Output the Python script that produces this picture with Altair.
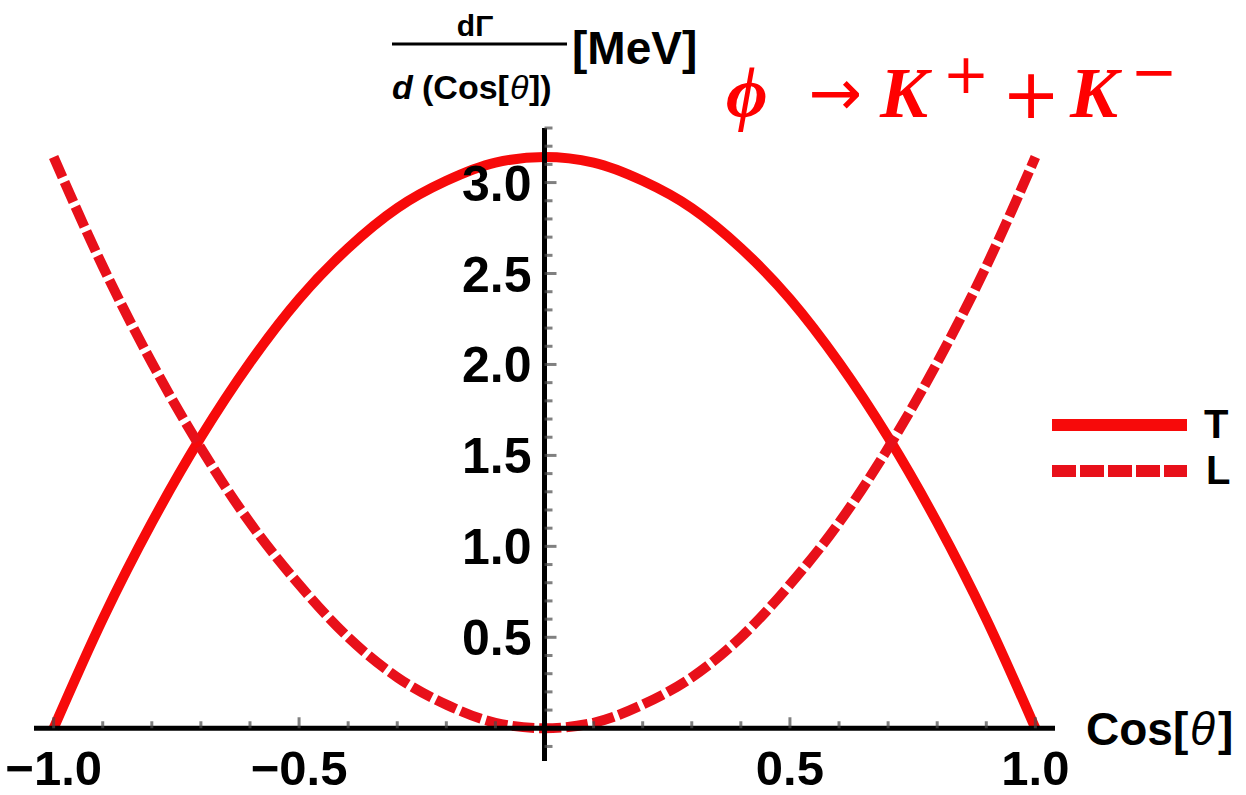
import altair as alt
import pandas as pd

# Angular distribution of phi -> K+ K- for transverse (T) and longitudinal (L) polarisation
cos_theta = [-1.0, -0.9, -0.8, -0.7, -0.6, -0.5, -0.4, -0.3, -0.2, -0.1, 0.0,
             0.1, 0.2, 0.3, 0.4, 0.5, 0.6, 0.7, 0.8, 0.9, 1.0]
t_vals = [0.0, 0.60, 1.13, 1.60, 2.01, 2.36, 2.64, 2.86, 3.01, 3.11, 3.14,
          3.11, 3.01, 2.86, 2.64, 2.36, 2.01, 1.60, 1.13, 0.60, 0.0]
l_vals = [3.14, 2.54, 2.01, 1.54, 1.13, 0.79, 0.50, 0.28, 0.13, 0.03, 0.0,
          0.03, 0.13, 0.28, 0.50, 0.79, 1.13, 1.54, 2.01, 2.54, 3.14]
series = ["T", "L"]

x_major = [-1.0, -0.5, 0.5, 1.0]
x_labels = ["\u22121.0", "\u22120.5", "0.5", "1.0"]
x_minor = [-0.9, -0.8, -0.7, -0.6, -0.4, -0.3, -0.2, -0.1,
           0.1, 0.2, 0.3, 0.4, 0.6, 0.7, 0.8, 0.9]
y_major = [0.5, 1.0, 1.5, 2.0, 2.5, 3.0]
y_labels = ["0.5", "1.0", "1.5", "2.0", "2.5", "3.0"]
y_minor = [-0.1, 0.1, 0.2, 0.3, 0.4, 0.6, 0.7, 0.8, 0.9, 1.1, 1.2, 1.3, 1.4,
           1.6, 1.7, 1.8, 1.9, 2.1, 2.2, 2.3, 2.4, 2.6, 2.7, 2.8, 2.9,
           3.1, 3.2, 3.3]

# Layout of the plot area inside the 1246x795 canvas
LEFT, TOP, W, H = 34, 128, 1021, 633
X_DOMAIN = [-1.04, 1.04]
Y_DOMAIN = [-0.18, 3.30]
RED_T = "#f70a0a"
RED_L = "#e8101a"
RED_TXT = "#ff0000"
TICK_GREY = "#4a4a4a"
SANS = "Liberation Sans"
SERIF = "Liberation Serif"
SYMBOLS = "DejaVu Sans"

xs = alt.Scale(domain=X_DOMAIN, nice=False, zero=False)
ys = alt.Scale(domain=Y_DOMAIN, nice=False, zero=False)

curves = pd.DataFrame({
    "x": cos_theta * 2,
    "y": t_vals + l_vals,
    "series": [series[0]] * len(t_vals) + [series[1]] * len(l_vals),
})

base = alt.Chart(curves)
t_line = base.transform_filter(alt.datum.series == "T").mark_line(
    color=RED_T, strokeWidth=10, interpolate="monotone", strokeCap="butt"
).encode(x=alt.X("x:Q", scale=xs, axis=None), y=alt.Y("y:Q", scale=ys, axis=None))
l_line = base.transform_filter(alt.datum.series == "L").mark_line(
    color=RED_L, strokeWidth=10, interpolate="monotone", strokeDash=[22, 5], strokeCap="butt"
).encode(x=alt.X("x:Q", scale=xs, axis=None), y=alt.Y("y:Q", scale=ys, axis=None))

one = alt.Data(values=[{}])

# Axis lines crossing at the origin
x_axis_line = alt.Chart(one).mark_rule(color="black", strokeWidth=5).encode(
    x=alt.value(0), x2=alt.value(W), y=alt.Y(datum=0, scale=ys)
)
y_axis_line = alt.Chart(one).mark_rule(color="black", strokeWidth=5).encode(
    x=alt.X(datum=0, scale=xs), y=alt.value(0), y2=alt.value(H)
)

# Ticks
xmaj = alt.Chart(pd.DataFrame({"v": x_major})).mark_tick(
    orient="vertical", size=11, thickness=3, yOffset=-5.5, color=TICK_GREY
).encode(x=alt.X("v:Q", scale=xs), y=alt.Y(datum=0, scale=ys))
xmin = alt.Chart(pd.DataFrame({"v": x_minor})).mark_tick(
    orient="vertical", size=7, thickness=3, yOffset=-3.5, color=TICK_GREY
).encode(x=alt.X("v:Q", scale=xs), y=alt.Y(datum=0, scale=ys))
ymaj = alt.Chart(pd.DataFrame({"v": y_major})).mark_tick(
    orient="horizontal", size=12, thickness=3, xOffset=6, color=TICK_GREY
).encode(y=alt.Y("v:Q", scale=ys), x=alt.X(datum=0, scale=xs))
ymin = alt.Chart(pd.DataFrame({"v": y_minor})).mark_tick(
    orient="horizontal", size=8, thickness=3, xOffset=4, color=TICK_GREY
).encode(y=alt.Y("v:Q", scale=ys), x=alt.X(datum=0, scale=xs))

# Tick labels
xlab = alt.Chart(pd.DataFrame({"v": x_major, "t": x_labels})).mark_text(
    font=SANS, fontWeight="bold", fontSize=49, align="center", baseline="alphabetic",
    dy=57, color="black"
).encode(x=alt.X("v:Q", scale=xs), y=alt.Y(datum=0, scale=ys), text="t:N")
ylab = alt.Chart(pd.DataFrame({"v": y_major, "t": y_labels})).mark_text(
    font=SANS, fontWeight="bold", fontSize=50, align="right", baseline="alphabetic",
    dx=-13, dy=18, color="black"
).encode(y=alt.Y("v:Q", scale=ys), x=alt.X(datum=0, scale=xs), text="t:N")


def text_at(txt, x, y, size, font=SANS, weight="bold", style="normal",
            color="black", align="left", baseline="alphabetic"):
    return alt.Chart(one).mark_text(
        text=txt, font=font, fontSize=size, fontWeight=weight, fontStyle=style,
        color=color, align=align, baseline=baseline
    ).encode(x=alt.value(x - LEFT), y=alt.value(y - TOP))


# Y axis title: dGamma / d(Cos[theta]) [MeV]
y_title = [
    text_at("d\u0393", 475, 36, 30, align="center"),
    alt.Chart(one).mark_rule(color="black", strokeWidth=3).encode(
        x=alt.value(392 - LEFT), x2=alt.value(567 - LEFT), y=alt.value(44 - TOP)
    ),
    text_at("d", 392, 99, 34, style="italic"),
    text_at("(Cos[", 422, 99, 34),
    text_at("\u03b8", 510, 99, 34, style="italic", weight="normal"),
    text_at("])", 529, 99, 34),
    text_at("[MeV]", 572, 64, 46),
]

# X axis title
x_title = [
    text_at("Cos[", 1086, 745, 46),
    text_at("\u03b8", 1190, 745, 46, style="italic", weight="normal"),
    text_at("]", 1218, 745, 46),
]

# Reaction label
reaction = [
    text_at("\u03d5", 726, 117, 72, font=SERIF, style="italic", color=RED_TXT),
    text_at("\u2192", 835, 96, 64, font=SYMBOLS, weight="normal", color=RED_TXT,
            align="center", baseline="middle"),
    text_at("K", 880, 117, 72, font=SERIF, style="italic", color=RED_TXT),
    text_at("+", 966, 76, 56, font=SYMBOLS, weight="normal", color=RED_TXT,
            align="center", baseline="middle"),
    text_at("+", 1031, 97, 70, font=SYMBOLS, weight="normal", color=RED_TXT,
            align="center", baseline="middle"),
    text_at("K", 1070, 117, 72, font=SERIF, style="italic", color=RED_TXT),
    text_at("\u2212", 1154, 74, 56, font=SYMBOLS, weight="normal", color=RED_TXT,
            align="center", baseline="middle"),
]

# Legend
legend = [
    alt.Chart(one).mark_rule(color=RED_T, strokeWidth=12).encode(
        x=alt.value(1052 - LEFT), x2=alt.value(1187 - LEFT), y=alt.value(425 - TOP)
    ),
    alt.Chart(one).mark_rule(color=RED_L, strokeWidth=12, strokeDash=[24, 4]).encode(
        x=alt.value(1052 - LEFT), x2=alt.value(1187 - LEFT), y=alt.value(471 - TOP)
    ),
    text_at(series[0], 1204, 426, 40, baseline="middle"),
    text_at(series[1], 1206, 472, 40, baseline="middle"),
]

chart = alt.layer(
    t_line, l_line, x_axis_line, y_axis_line, xmaj, xmin, ymaj, ymin, xlab, ylab,
    *y_title, *x_title, *reaction, *legend
).properties(
    width=W, height=H,
    autosize=alt.AutoSizeParams(type="none"),
    padding={"left": LEFT, "top": TOP, "right": 1246 - LEFT - W, "bottom": 795 - TOP - H},
).configure_view(stroke=None)

chart.save("out.html", embed_options={"renderer": "svg", "actions": False})
